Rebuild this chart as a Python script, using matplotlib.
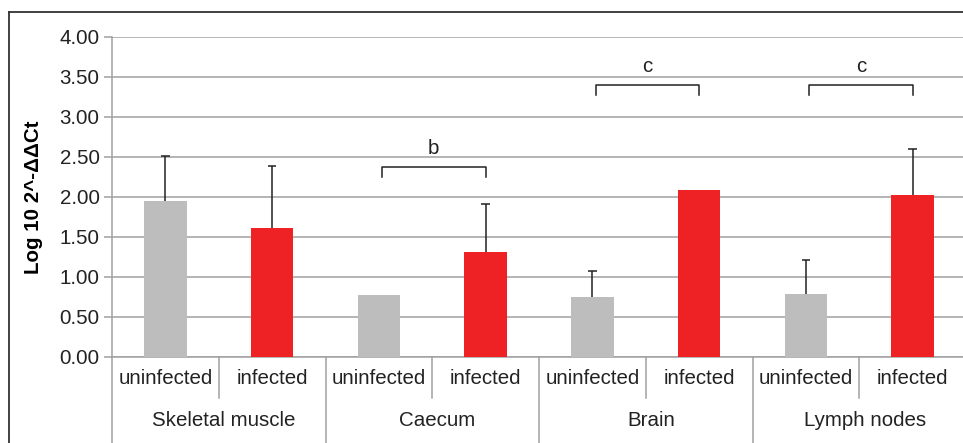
import matplotlib
matplotlib.use("Agg")
import matplotlib.pyplot as plt
from matplotlib.lines import Line2D
import matplotlib.transforms as mtransforms

plt.rcParams['font.family'] = ['Liberation Sans', 'DejaVu Sans']

groups = ["Skeletal muscle", "Caecum", "Brain", "Lymph nodes"]
conditions = ["uninfected", "infected"]
values = [1.95, 1.61, 0.77, 1.31, 0.75, 2.09, 0.79, 2.02]
err_up = [0.56, 0.78, 0.0, 0.60, 0.32, 0.0, 0.42, 0.58]
bar_colors = ["#bdbdbd", "#ee2224"] * 4
yticks = [0.0, 0.5, 1.0, 1.5, 2.0, 2.5, 3.0, 3.5, 4.0]
ylabel = "Log 10 2^-ΔΔCt"
sig_groups = [1, 2, 3]
sig_letters = ["b", "c", "c"]
sig_heights = [2.37, 3.40, 3.40]

W, H = 963, 443
fig = plt.figure(figsize=(W / 100, H / 100), dpi=100)
left_px, right_px, top_px, bot_px = 112, 966, 37, 357
ax = fig.add_axes([left_px / W, 1 - bot_px / H, (right_px - left_px) / W, (bot_px - top_px) / H])

# outer border (left and top)
fig.add_artist(Line2D([9 / W, 9 / W], [0, 1 - 12 / H], transform=fig.transFigure, color="#333333", lw=1.3))
fig.add_artist(Line2D([9 / W, 1], [1 - 12 / H, 1 - 12 / H], transform=fig.transFigure, color="#333333", lw=1.3))

grid_color = "#a0a0a0"
xs = [i + 0.5 for i in range(len(values))]
ax.bar(xs, values, width=0.4, color=bar_colors, zorder=3)
cap_half = 0.04
for x, v, e in zip(xs, values, err_up):
    if e > 0:
        ax.vlines(x, v, v + e, color="#222222", lw=1.1, zorder=4)
        ax.hlines(v + e, x - cap_half, x + cap_half, color="#222222", lw=1.1, zorder=4)

ax.set_xlim(0, 8)
ax.set_ylim(0, 4.0)
ax.set_yticks(yticks)
ax.set_yticklabels([f"{t:.2f}" for t in yticks], fontsize=14.8, color="#222222")
ax.yaxis.grid(True, color=grid_color, lw=1.1, zorder=0)
ax.set_axisbelow(True)
ax.tick_params(axis="y", length=6, width=1.1, color=grid_color, pad=3)
ax.set_xticks([])
for s in ["top", "right"]:
    ax.spines[s].set_visible(False)
ax.spines["left"].set_color(grid_color)
ax.spines["bottom"].set_color(grid_color)
ax.spines["left"].set_linewidth(1.1)
ax.spines["bottom"].set_linewidth(1.1)
ax.set_ylabel(ylabel, fontsize=14.8, fontweight="bold", labelpad=12)

# category axis below
trans = mtransforms.blended_transform_factory(ax.transData, ax.transAxes)
ax_h_px = bot_px - top_px
sub_bottom = -(398 - bot_px) / ax_h_px
grp_bottom = -(445 - bot_px) / ax_h_px
for i in range(len(values) + 1):
    yb = grp_bottom if i % 2 == 0 else sub_bottom
    ax.add_line(Line2D([i, i], [0, yb], transform=trans, color=grid_color, lw=1.1, clip_on=False))
for i, x in enumerate(xs):
    ax.text(x, -(379 - bot_px) / ax_h_px, conditions[i % 2], transform=trans,
            ha="center", va="center", fontsize=14.8, color="#222222")
for g, name in enumerate(groups):
    ax.text(2 * g + 1.05, -(421 - bot_px) / ax_h_px, name, transform=trans,
            ha="center", va="center", fontsize=14.8, color="#222222")

# significance brackets
for g, letter, h in zip(sig_groups, sig_letters, sig_heights):
    x0, x1 = xs[2 * g] + 0.03, xs[2 * g + 1]
    ax.plot([x0, x0, x1, x1], [h - 0.12, h, h, h - 0.12], color="#222222", lw=1.1,
            clip_on=False, zorder=5)
    ax.text((x0 + x1) / 2, h + 0.23, letter, ha="center", va="center", fontsize=14.8,
            color="#222222")

fig.savefig("out.png", dpi=100)
